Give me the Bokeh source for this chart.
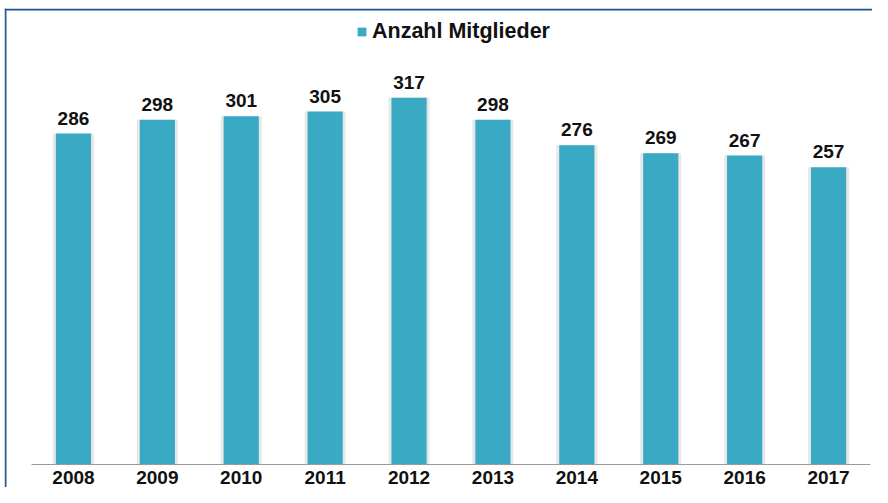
from bokeh.plotting import figure
from bokeh.models import (ColumnDataSource, LabelSet, Range1d, BoxAnnotation,
                          LinearAxis, FixedTicker)
from bokeh.core.properties import value
from bokeh.embed import file_html
from bokeh.resources import INLINE

years = ["2008", "2009", "2010", "2011", "2012", "2013", "2014", "2015", "2016", "2017"]
members = [286, 298, 301, 305, 317, 298, 276, 269, 267, 257]
series_name = "Anzahl Mitglieder"

idx = list(range(len(years)))
src = ColumnDataSource(dict(x=idx, y=members, lab=[str(v) for v in members]))

W, H = 872, 487
p = figure(width=W, height=H, output_backend="svg", toolbar_location=None,
           x_range=Range1d(-0.8218, 9.5238), y_range=Range1d(-19.88, 394.1),
           x_axis_type=None, y_axis_type=None,
           min_border_left=4, min_border_right=0, min_border_top=8, min_border_bottom=0)
p.outline_line_color = None
p.xgrid.grid_line_color = None
p.ygrid.grid_line_color = None
p.background_fill_color = "white"
p.border_fill_color = "white"

# outer chart border (top and left edges)
p.add_layout(BoxAnnotation(left=4, right=W, top=8, bottom=10,
                           left_units="canvas", right_units="canvas",
                           top_units="canvas", bottom_units="canvas",
                           fill_color="#1f4f8f", fill_alpha=1, line_color=None))
p.add_layout(BoxAnnotation(left=4, right=6, top=8, bottom=H,
                           left_units="canvas", right_units="canvas",
                           top_units="canvas", bottom_units="canvas",
                           fill_color="#2a5a98", fill_alpha=1, line_color=None))

# soft shadow behind bars
p.vbar(x="x", top="y", width=0.49, bottom=0, source=src, fill_color="#e2e2e2",
       line_color=None, fill_alpha=0.8)
p.vbar(x="x", top="y", width=0.42, bottom=0, source=src, fill_color="#3aaac4",
       line_color=None, legend_label=series_name)

labels = LabelSet(x="x", y="y", text="lab", source=src, text_align="center",
                  text_baseline="alphabetic", y_offset=9, text_font=value("Liberation Sans"),
                  text_font_style="bold", text_font_size="19px", text_color="#111111")
p.add_layout(labels)

ax = LinearAxis(ticker=FixedTicker(ticks=idx),
                major_label_overrides={i: y for i, y in zip(idx, years)},
                fixed_location=0, bounds=(-0.5, len(years) - 0.5))
ax.axis_line_color = "#9a9a9a"
ax.axis_line_width = 1
ax.major_tick_line_color = None
ax.minor_tick_line_color = None
ax.major_tick_out = 0
ax.major_tick_in = 0
ax.major_label_standoff = 7
ax.major_label_text_font = "Liberation Sans"
ax.major_label_text_font_style = "bold"
ax.major_label_text_font_size = "19px"
ax.major_label_text_color = "#111111"
p.add_layout(ax, "below")

lg = p.legend[0]
lg.location = (352, 443)
lg.orientation = "horizontal"
lg.border_line_color = None
lg.background_fill_alpha = 0
lg.padding = 0
lg.spacing = 0
lg.margin = 0
lg.glyph_width = 11
lg.glyph_height = 11
lg.label_height = 20
lg.label_standoff = 5
lg.label_text_font = "Liberation Sans"
lg.label_text_font_style = "bold"
lg.label_text_font_size = "21.5px"
lg.label_text_color = "#111111"

open("out.html", "w").write(file_html(p, INLINE))
